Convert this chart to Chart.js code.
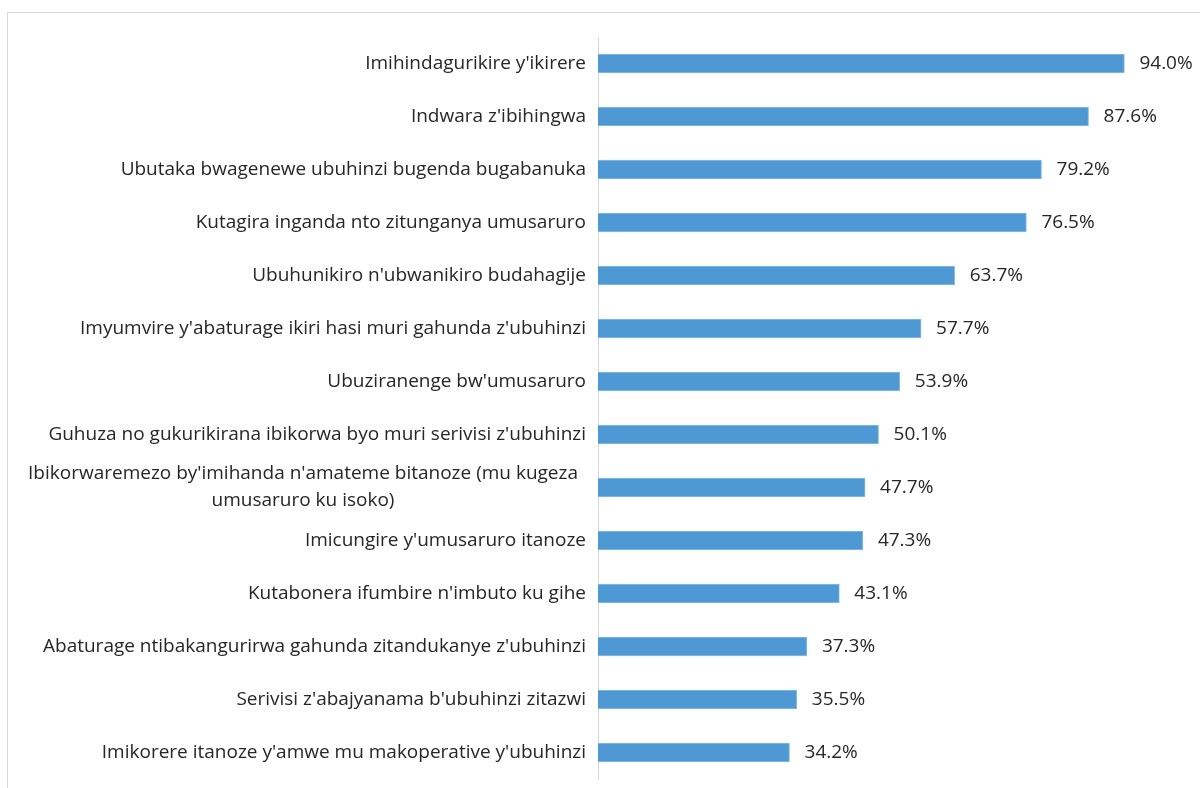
<!DOCTYPE html>
<html>
<head>
<meta charset="utf-8">
<script src="https://cdn.jsdelivr.net/npm/chart.js"></script>
<style>
  body { margin: 0; background: #ffffff; overflow: hidden; }
  .frame {
    position: absolute;
    left: 7px;
    top: 12px;
    width: 1300px;
    height: 900px;
    border: 1px solid #d9d9d9;
  }
  .wrap { position: absolute; left: 0; top: 0; width: 1200px; height: 788px; }
</style>
</head>
<body>
<div class="frame"></div>
<div class="wrap"><canvas id="chart"></canvas></div>

<script>
const categories = [
  "Imihindagurikire y'ikirere",
  "Indwara z'ibihingwa",
  "Ubutaka bwagenewe ubuhinzi bugenda bugabanuka",
  "Kutagira inganda nto zitunganya umusaruro",
  "Ubuhunikiro n'ubwanikiro budahagije",
  "Imyumvire y'abaturage ikiri hasi muri gahunda z'ubuhinzi",
  "Ubuziranenge bw'umusaruro",
  "Guhuza no gukurikirana ibikorwa byo muri serivisi z'ubuhinzi",
  ["Ibikorwaremezo by'imihanda n'amateme bitanoze (mu kugeza", "umusaruro ku isoko)"],
  "Imicungire y'umusaruro itanoze",
  "Kutabonera ifumbire n'imbuto ku gihe",
  "Abaturage ntibakangurirwa gahunda zitandukanye z'ubuhinzi",
  "Serivisi z'abajyanama b'ubuhinzi zitazwi",
  "Imikorere itanoze y'amwe mu makoperative y'ubuhinzi"
];

const percentages = [94.0, 87.6, 79.2, 76.5, 63.7, 57.7, 53.9, 50.1, 47.7, 47.3, 43.1, 37.3, 35.5, 34.2];

const labelFont = '19px "Open Sans", sans-serif';
const textColor = '#262626';

// category labels drawn by hand so the wrapped one can be centred
const categoryLabels = {
  id: 'categoryLabels',
  afterDraw(chart) {
    const ctx = chart.ctx;
    const y = chart.scales.y;
    const right = y.right - 12;
    ctx.save();
    ctx.font = labelFont;
    ctx.fillStyle = textColor;
    ctx.textBaseline = 'middle';
    categories.forEach((lab, i) => {
      const cy = y.getPixelForTick(i);
      if (Array.isArray(lab)) {
        const w = Math.max(...lab.map(l => ctx.measureText(l).width));
        const cx = right - 8 - w / 2;
        ctx.textAlign = 'center';
        lab.forEach((l, j) => {
          ctx.fillText(l, cx, cy + (j - (lab.length - 1) / 2) * 27);
        });
      } else {
        ctx.textAlign = 'right';
        ctx.fillText(lab, right, cy);
      }
    });
    ctx.restore();
  }
};

// value labels at the end of each bar
const valueLabels = {
  id: 'valueLabels',
  afterDatasetsDraw(chart) {
    const ctx = chart.ctx;
    const meta = chart.getDatasetMeta(0);
    ctx.save();
    ctx.font = labelFont;
    ctx.fillStyle = textColor;
    ctx.textAlign = 'left';
    ctx.textBaseline = 'middle';
    meta.data.forEach((bar, i) => {
      ctx.fillText(percentages[i].toFixed(1) + '%', bar.x + 15, bar.y);
    });
    ctx.restore();
  }
};

new Chart(document.getElementById('chart'), {
  type: 'bar',
  data: {
    labels: categories,
    datasets: [{
      data: percentages,
      backgroundColor: '#4e99d3',
      borderColor: '#8dbde6',
      borderWidth: 1,
      borderSkipped: 'left',
      barThickness: 19
    }]
  },
  options: {
    indexAxis: 'y',
    responsive: true,
    maintainAspectRatio: false,
    animation: false,
    layout: { padding: { left: 0, top: 37, right: 42, bottom: 9 } },
    plugins: {
      legend: { display: false },
      tooltip: { enabled: false }
    },
    scales: {
      x: {
        display: false,
        min: 0,
        max: 100
      },
      y: {
        grid: { display: false },
        border: { display: true, color: '#d9d9d9', width: 1 },
        ticks: { display: false },
        afterFit(scale) { scale.width = 598; }
      }
    }
  },
  plugins: [categoryLabels, valueLabels]
});
</script>
</body>
</html>
